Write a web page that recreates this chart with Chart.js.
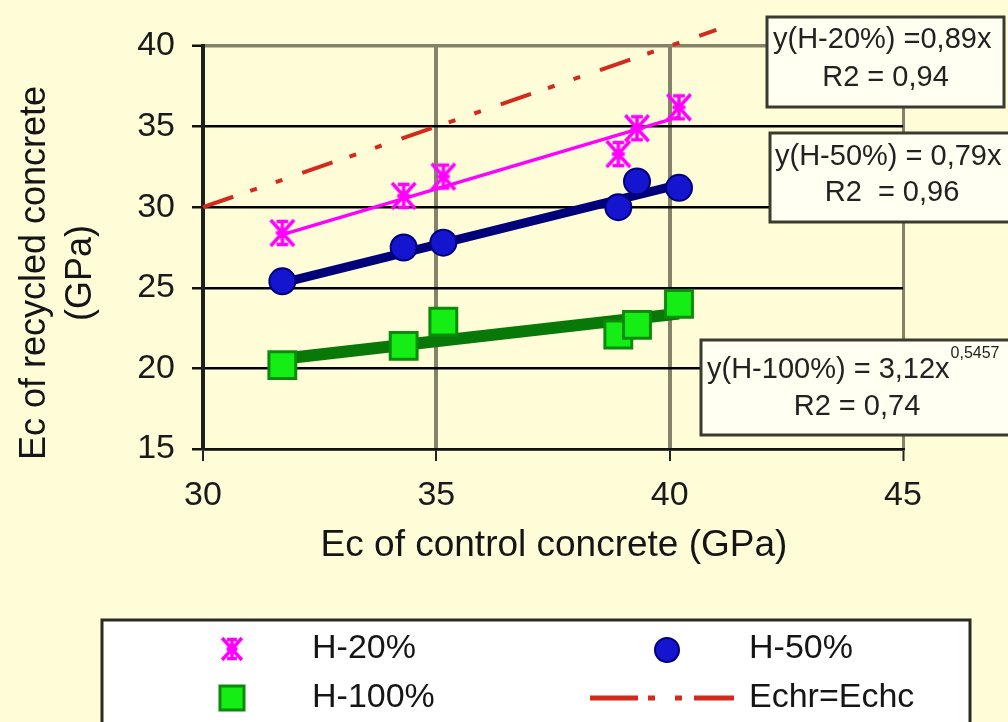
<!DOCTYPE html>
<html><head><meta charset="utf-8">
<script src="https://cdn.jsdelivr.net/npm/chart.js@4/dist/chart.umd.min.js"></script>
<style>html,body{margin:0;padding:0;background:#fffcd8;overflow:hidden}</style>
</head><body>
<canvas id="c" width="1008" height="722"></canvas>
<script>
// ---- data ----
const controlE     = [31.7, 34.3, 35.15, 38.9, 39.3, 40.2];
const recycledH20  = [28.4, 30.7, 31.9, 33.3, 34.9, 36.2];
const recycledH50  = [25.4, 27.5, 27.8, 30.0, 31.6, 31.2];
const recycledH100 = [20.2, 21.4, 22.9, 22.1, 22.7, 24.0];
const trendX    = [31.7, 40.2];
const trendH20  = [28.3, 35.6];
const trendH50  = [25.3, 31.4];
const trendH100 = [20.6, 23.4];
const equalityX = [30, 41];
const equalityY = [30, 41];
const xTickValues = [30, 35, 40, 45];
const yTickValues = [15, 20, 25, 30, 35, 40];
const seriesNames = ['H-20%', 'H-50%', 'H-100%', 'Echr=Echc'];
const fitLabels = [['y(H-20%) =0,89x', 'R2 = 0,94'], ['y(H-50%) = 0,79x', 'R2  = 0,96'], ['y(H-100%) = 3,12x', 'R2 = 0,74']];
const fitExponent = '0,5457';
const xTitle = 'Ec of control concrete (GPa)';
const yTitle = ['Ec of recycled concrete', '(GPa)'];

// ---- styles ----
const FONT = "'Liberation Sans', Arial, sans-serif";
const BG = '#fffcd8';
const magenta = '#ff00ff', navy = '#00007a', blueFill = '#1515cf', greenFill = '#14ee14', greenEdge = '#0a8c0a', greenLine = '#087808', red = '#d22a1c';
const gridGray = '#85826a';

function pts(xs, ys) { return xs.map((x, i) => ({x: x, y: ys[i]})); }

function makeAsterisk(size, color) {
  const c = document.createElement('canvas');
  c.width = c.height = size;
  const g = c.getContext('2d');
  g.strokeStyle = color; g.lineWidth = 3.5;
  const m = size / 2, r = size / 2 - 2, a = r * 0.9, cap = r * 0.45;
  g.beginPath();
  g.moveTo(m - a, m - r); g.lineTo(m + a, m + r);
  g.moveTo(m + a, m - r); g.lineTo(m - a, m + r);
  g.moveTo(m, m - r); g.lineTo(m, m + r);
  g.moveTo(m - cap, m - r + 1.5); g.lineTo(m + cap, m - r + 1.5);
  g.moveTo(m - cap, m + r - 1.5); g.lineTo(m + cap, m + r - 1.5);
  g.moveTo(m - r * 0.5, m); g.lineTo(m + r * 0.5, m);
  g.stroke();
  return c;
}
const asterisk = makeAsterisk(30, magenta);
const asteriskSmall = makeAsterisk(26, magenta);

const overlay = {
  id: 'overlay',
  beforeDraw(chart) {
    const ctx = chart.ctx;
    ctx.save(); ctx.fillStyle = BG; ctx.fillRect(0, 0, chart.width, chart.height); ctx.restore();
  },
  afterDraw(chart) {
    const ctx = chart.ctx;
    const xs = chart.scales.x;
    ctx.save();
    // axis titles
    ctx.fillStyle = '#151515';
    ctx.textAlign = 'center'; ctx.textBaseline = 'middle';
    ctx.font = '37px ' + FONT;
    ctx.fillText(xTitle, (xs.left + xs.right) / 2 + 1, 546);
    ctx.save();
    ctx.translate(35, 273); ctx.rotate(-Math.PI / 2);
    ctx.font = '36px ' + FONT;
    ctx.fillText(yTitle[0], 0, 0);
    ctx.fillText(yTitle[1], 0, 46);
    ctx.restore();

    // fit boxes
    const boxes = [
      {l: 767, t: 17, r: 1004, b: 107, x1: 773, y1: 40, y2: 78},
      {l: 770, t: 133, r: 1014, b: 222, x1: 775, y1: 157, y2: 193},
      {l: 701, t: 340, r: 1013, b: 435, x1: 707, y1: 370, y2: 407}
    ];
    boxes.forEach((bx, i) => {
      ctx.fillStyle = '#fffff2';
      ctx.fillRect(bx.l, bx.t, bx.r - bx.l, bx.b - bx.t);
      ctx.strokeStyle = '#3a3a30'; ctx.lineWidth = 3;
      ctx.strokeRect(bx.l, bx.t, bx.r - bx.l, bx.b - bx.t);
      ctx.fillStyle = '#222';
      ctx.font = '29px ' + FONT;
      ctx.textAlign = 'left'; ctx.textBaseline = 'middle';
      ctx.fillText(fitLabels[i][0], bx.x1, bx.y1);
      if (i === 2) {
        const w = ctx.measureText(fitLabels[i][0]).width;
        ctx.font = '16px ' + FONT;
        ctx.fillText(fitExponent, bx.x1 + w + 1, bx.y1 - 16);
        ctx.font = '29px ' + FONT;
      }
      ctx.textAlign = 'center';
      ctx.fillText(fitLabels[i][1], (bx.l + bx.r) / 2, bx.y2);
    });

    // legend
    ctx.fillStyle = '#ffffff';
    ctx.fillRect(102, 620, 868, 130);
    ctx.strokeStyle = '#2a2a22'; ctx.lineWidth = 3;
    ctx.strokeRect(102, 620, 868, 130);
    ctx.fillStyle = '#151515';
    ctx.font = '34px ' + FONT; ctx.textAlign = 'left'; ctx.textBaseline = 'middle';
    const ds = chart.data.datasets;
    ctx.drawImage(asteriskSmall, 232 - 13, 649 - 13);
    ctx.fillStyle = ds[1].backgroundColor; ctx.strokeStyle = ds[1].borderColor; ctx.lineWidth = 2;
    Chart.helpers.drawPoint(ctx, {pointStyle: 'circle', radius: 12, borderWidth: 2, rotation: 0}, 667, 650);
    ctx.fillStyle = ds[2].backgroundColor; ctx.strokeStyle = ds[2].borderColor; ctx.lineWidth = 3;
    Chart.helpers.drawPoint(ctx, {pointStyle: 'rect', radius: 17, borderWidth: 3, rotation: 0}, 232, 698);
    ctx.strokeStyle = ds[6].borderColor; ctx.lineWidth = 5;
    ctx.setLineDash([48, 10, 7, 20, 7, 12, 40]);
    ctx.beginPath(); ctx.moveTo(590, 698); ctx.lineTo(734, 698); ctx.stroke();
    ctx.setLineDash([]);
    ctx.fillStyle = '#151515';
    ctx.fillText(seriesNames[0], 312, 649);
    ctx.fillText(seriesNames[1], 749, 649);
    ctx.fillText(seriesNames[2], 312, 698);
    ctx.fillText(seriesNames[3], 749, 698);
    ctx.restore();
  }
};

new Chart(document.getElementById('c'), {
  type: 'scatter',
  data: {
    datasets: [
      {label: seriesNames[0], data: pts(controlE, recycledH20), pointStyle: asterisk, pointRadius: 15, showLine: false},
      {label: seriesNames[1], data: pts(controlE, recycledH50), pointStyle: 'circle', pointRadius: 13,
        backgroundColor: blueFill, borderColor: navy, borderWidth: 2, showLine: false},
      {label: seriesNames[2], data: pts(controlE, recycledH100), pointStyle: 'rect', pointRadius: 19,
        backgroundColor: greenFill, borderColor: greenEdge, borderWidth: 3, showLine: false},
      {label: 'trend H-20%', data: pts(trendX, trendH20), showLine: true, borderColor: magenta, borderWidth: 3.5, pointRadius: 0, fill: false},
      {label: 'trend H-50%', data: pts(trendX, trendH50), showLine: true, borderColor: navy, borderWidth: 9, pointRadius: 0, fill: false},
      {label: 'trend H-100%', data: pts(trendX, trendH100), showLine: true, borderColor: greenLine, borderWidth: 12, pointRadius: 0, fill: false},
      {label: seriesNames[3], data: pts(equalityX, equalityY), showLine: true, borderColor: red, borderWidth: 4,
        borderDash: [32, 18, 7, 20, 7, 21], pointRadius: 0, fill: false, clip: false}
    ]
  },
  options: {
    responsive: false, animation: false, events: [], devicePixelRatio: 1,
    layout: {padding: {left: 0, top: 46, right: 105, bottom: 213}},
    plugins: {legend: {display: false}, tooltip: {enabled: false}},
    scales: {
      x: {
        type: 'linear', min: 30, max: 45,
        afterBuildTicks: s => { s.ticks = xTickValues.map(v => ({value: v})); },
        afterFit: s => { s.height = 60; },
        ticks: {font: {family: FONT, size: 34}, color: '#1a1a1a', padding: 14, maxRotation: 0},
        grid: {
          color: c => (c.tick && c.tick.value === 30) ? '#111' : gridGray,
          lineWidth: c => (c.tick && c.tick.value === 45) ? 3 : 4,
          tickColor: '#222', tickLength: 12, tickWidth: 2
        },
        border: {color: '#111', width: 2.5}
      },
      y: {
        type: 'linear', min: 15, max: 40,
        afterBuildTicks: s => { s.ticks = yTickValues.map(v => ({value: v})); },
        afterFit: s => { s.width = 203; },
        ticks: {font: {family: FONT, size: 34}, color: '#1a1a1a', padding: 17},
        grid: {
          color: c => (c.tick && c.tick.value === 40) ? gridGray : '#000',
          lineWidth: c => (c.tick && c.tick.value === 40) ? 3.5 : 2.5,
          tickColor: '#111', tickLength: 11, tickWidth: 2.5
        },
        border: {color: '#1e1e1a', width: 4}
      }
    }
  },
  plugins: [overlay]
});
</script>
</body></html>
